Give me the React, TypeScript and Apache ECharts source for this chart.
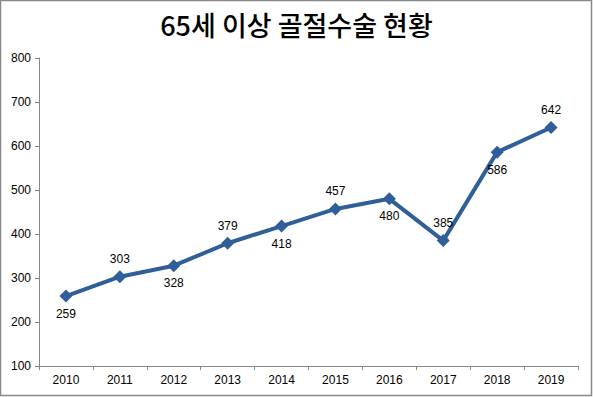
import React, { useEffect, useRef } from "react";
import * as echarts from "echarts";

const categories = ["2010", "2011", "2012", "2013", "2014", "2015", "2016", "2017", "2018", "2019"];
const values = [259, 303, 328, 379, 418, 457, 480, 385, 586, 642];
const labelPositions = ["bottom", "top", "bottom", "top", "bottom", "top", "bottom", "top", "bottom", "top"];
const yTicks = { min: 100, max: 800, interval: 100 };

export default function App() {
  const ref = useRef<HTMLDivElement>(null);
  useEffect(() => {
    if (!ref.current) return;
    const chart = echarts.init(ref.current, null, { renderer: "svg" });
    const numFont = "'Liberation Sans', Arial, sans-serif";
    chart.setOption({
      animation: false,
      backgroundColor: "#fff",
      title: {
        text: "65세 이상 골절수술 현황",
        left: "center",
        top: 6,
        textStyle: {
          fontFamily: "'Noto Sans CJK KR', sans-serif",
          fontSize: 27,
          fontWeight: 500,
          color: "#000",
        },
      },
      graphic: [
        {
          type: "rect",
          shape: { x: 0.5, y: 0.5, width: 591, height: 395 },
          style: { fill: "none", stroke: "#888", lineWidth: 1.5 },
          silent: true,
        },
      ],
      grid: { left: 39, right: 15, top: 58, bottom: 31 },
      xAxis: {
        type: "category",
        data: categories,
        boundaryGap: true,
        axisLine: { lineStyle: { color: "#888", width: 1 } },
        axisTick: { show: true, alignWithLabel: false, length: 4, lineStyle: { color: "#888" } },
        axisLabel: { color: "#000", fontSize: 12, fontFamily: numFont, margin: 8 },
        splitLine: { show: false },
      },
      yAxis: {
        type: "value",
        min: yTicks.min,
        max: yTicks.max,
        interval: yTicks.interval,
        axisLine: { show: true, lineStyle: { color: "#888", width: 1 } },
        axisTick: { show: true, length: 4, lineStyle: { color: "#888" } },
        axisLabel: { color: "#000", fontSize: 12, fontFamily: numFont, margin: 8 },
        splitLine: { show: false },
      },
      series: [
        {
          type: "line",
          data: values.map((v, i) => ({
            value: v,
            label: { position: labelPositions[i] },
          })),
          symbol: "diamond",
          symbolSize: 13,
          lineStyle: { color: "#2F5F98", width: 4 },
          itemStyle: { color: "#2F5F98" },
          label: {
            show: true,
            color: "#000",
            fontSize: 12,
            fontFamily: numFont,
            distance: 5,
          },
        },
      ],
    });
    return () => chart.dispose();
  }, []);
  return (
    <div
      ref={ref}
      style={{ position: "absolute", left: 0, top: 0, width: 593, height: 397 }}
    />
  );
}
